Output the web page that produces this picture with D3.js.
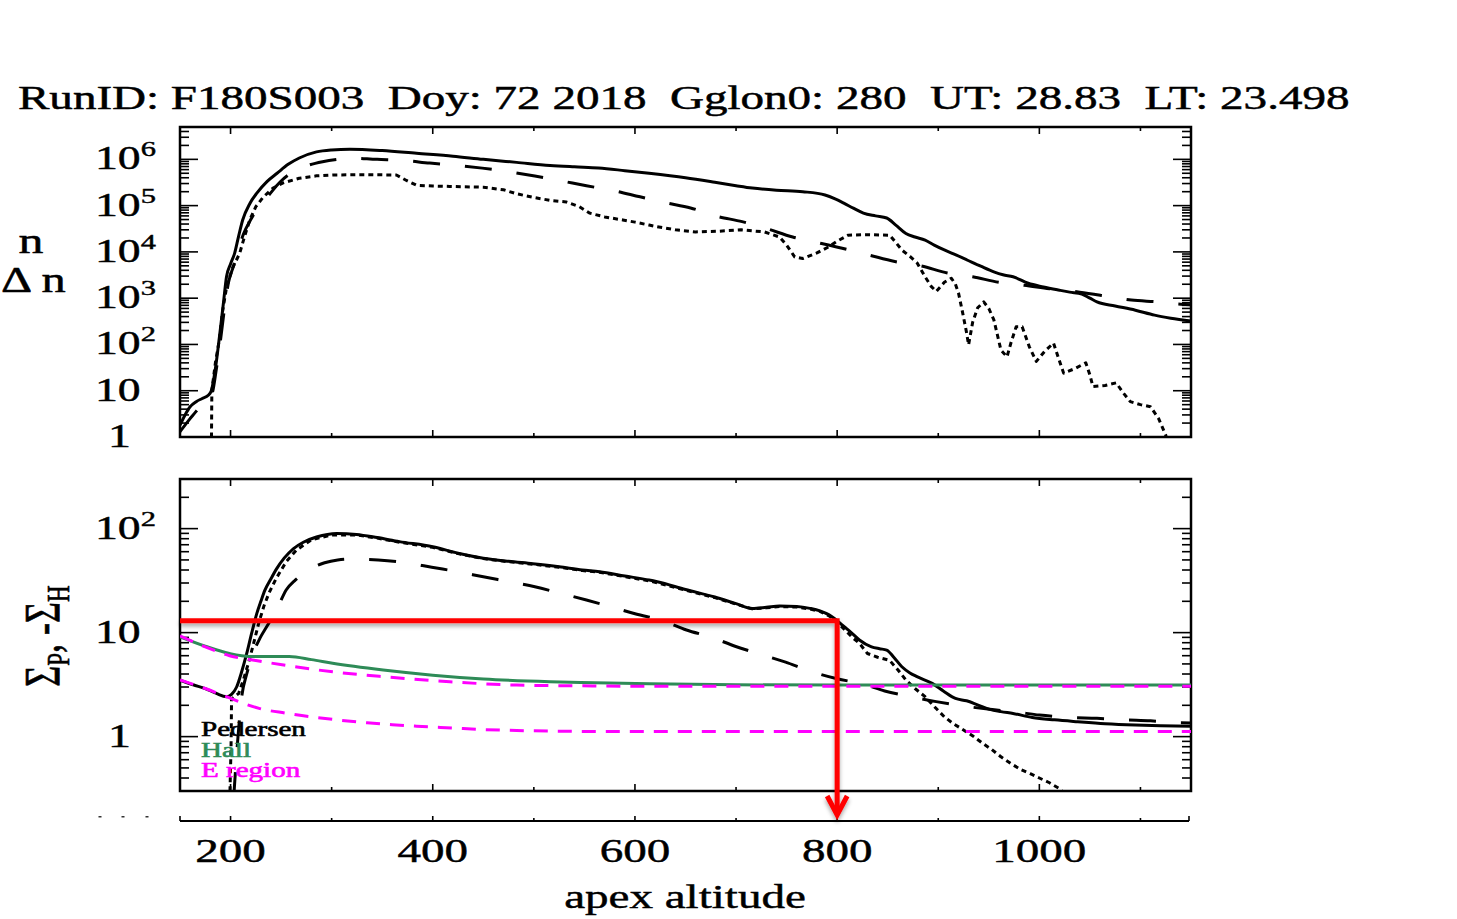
<!DOCTYPE html>
<html>
<head>
<meta charset="utf-8">
<script src="https://cdn.jsdelivr.net/npm/d3@7"></script>
<style>
  html, body { margin: 0; padding: 0; background: #fff; }
  svg text { font-family: "Liberation Serif", "DejaVu Serif", serif; white-space: pre; }
</style>
</head>
<body>
<svg id="chart" width="1457" height="919"></svg>
<script>
// ---------- run header ----------
const titleText = "RunID: F180S003  Doy: 72 2018  Gglon0: 280  UT: 28.83  LT: 23.498";

// ---------- axes ----------
const altDomain = [150, 1150];
const altTicks = [200, 300, 400, 500, 600, 700, 800, 900, 1000, 1100];
const altLabels = [200, 400, 600, 800, 1000];
const densDomain = [1, 5e6];
const densExponents = [0, 1, 2, 3, 4, 5, 6];
const sigmaDomain = [0.3, 300];
const sigmaExponents = [0, 1, 2];

// ---------- density profiles [apex altitude, value] ----------
const densTotal = [[150,1.8],[155,3],[160,4.5],[166,5.8],[172,6.8],[178,8],[181,10],[185,30],[189,145],[193,800],[196,2900],[200,5500],[204,9300],[208,22000],[212,49000],[219,110000],[226,186000],[236,330000],[246,500000],[257,780000],[268,1070000],[285,1450000],[300,1600000],[318,1660000],[350,1550000],[384,1350000],[420,1170000],[450,1000000],[483,860000],[516,740000],[540,690000],[564,650000],[590,570000],[614,500000],[650,400000],[679,320000],[700,270000],[716,240000],[740,215000],[766,200000],[788,170000],[798,140000],[807,112000],[816,88000],[826,69000],[838,60000],[849,54000],[858,38000],[868,25000],[877,21000],[887,18000],[896,14000],[906,11000],[918,8500],[929,6600],[942,4900],[955,3700],[964,3200],[974,2900],[989,2100],[1004,1750],[1019,1500],[1030,1350],[1042,1230],[1050,1000],[1057,830],[1075,680],[1095,550],[1114,430],[1130,370],[1150,320]];

const densBackground = [[150,1.3],[160,2.5],[170,4.5],[178,6.5],[182,9],[186,30],[190,120],[194,600],[198,2200],[203,5000],[207,10000],[213,25000],[220,50000],[228,95000],[238,170000],[249,324000],[265,589000],[278,760000],[291,891000],[305,1000000],[318,1070000],[345,1000000],[370,955000],[397,830000],[424,741000],[449,646000],[476,537000],[501,437000],[528,339000],[552,269000],[580,209000],[605,155000],[631,115000],[655,89000],[681,59000],[706,45000],[730,32000],[756,21000],[780,16000],[805,12000],[832,8500],[857,6200],[883,5000],[909,3500],[934,2900],[960,2200],[985,1900],[1010,1600],[1040,1350],[1065,1120],[1091,910],[1117,830],[1140,740],[1150,720]];

const densPerturbation = [[181,0.4],[181.5,10],[185,40],[189,130],[192,500],[196,1700],[202,4500],[209,9300],[214,22000],[219,49000],[225,95000],[232,150000],[242,240000],[252,310000],[268,390000],[285,440000],[301,460000],[330,465000],[364,460000],[374,350000],[384,275000],[400,265000],[417,260000],[450,250000],[470,220000],[483,180000],[500,150000],[516,130000],[532,120000],[545,95000],[555,69000],[570,57000],[588,49000],[600,44000],[614,38000],[622,35000],[640,30000],[660,27000],[683,28000],[705,30000],[728,27000],[743,21000],[750,14000],[758,7800],[766,7200],[780,9500],[792,13000],[800,17000],[811,23000],[830,23500],[852,23000],[858,16000],[864,11000],[872,8000],[879,5800],[887,2900],[893,1800],[898,1400],[906,2200],[913,2700],[917,2000],[920,1300],[924,500],[928,180],[930,98],[934,300],[939,620],[945,830],[950,600],[955,340],[962,76],[968,54],[972,110],[977,240],[983,240],[990,90],[997,43],[1005,70],[1014,107],[1019,50],[1024,24],[1035,30],[1046,40],[1050,22],[1053,12.3],[1065,13],[1076,14.8],[1083,9],[1090,5.8],[1100,5],[1110,4.5],[1118,2.5],[1125,1.1],[1130,0.4]];

// ---------- conductance profiles [apex altitude, value] ----------
const pedTotal = [[150,3.5],[163,3.15],[175,2.9],[186,2.6],[196,2.42],[201,2.55],[206,3.0],[211,4.2],[216,6.3],[221,10],[226,15.3],[230,20],[234,25.6],[240,33],[245.5,41],[253,52],[262,64],[272,74],[285,83],[305,90],[324.5,88],[345,82],[367,75],[400,67],[425,58],[450,52],[475,48.5],[499,46],[525,43],[548,40],[565,38.5],[590,35],[614,32],[622,30.8],[650,26],[679,22],[700,19],[716,17.1],[730,17.5],[743,18],[760,17.8],[773,17.1],[783,16.2],[792,14.8],[800,13],[807,11.4],[815,9.8],[822,8.5],[834,7.3],[842,7.0],[849,6.8],[856,5.8],[864,4.7],[872,4.1],[879,3.77],[894,3.25],[905,2.75],[917,2.33],[928,2.21],[940,2.0],[951,1.83],[962,1.74],[974,1.67],[993,1.53],[1015,1.45],[1038,1.39],[1065,1.33],[1095,1.29],[1120,1.27],[1150,1.26]];

const pedPerturbation = [[199,0.2],[200.5,0.8],[201,2.3],[208,2.6],[213,3.6],[218,5.2],[223,8],[228,12.5],[233,18],[238,24],[245,33],[255,48],[265,62],[280,78],[300,87],[324,87],[345,81],[367,74],[400,66],[425,57.5],[450,51.5],[475,48],[499,45.5],[525,42.5],[548,39.5],[565,38],[590,34.5],[614,31.5],[650,25.6],[679,21.7],[700,18.8],[716,16.9],[730,17.3],[743,17.8],[760,17.6],[773,16.9],[783,16],[792,14.5],[800,12.6],[807,10.8],[815,9.0],[822,7.9],[830,6.3],[840,5.8],[852,5.4],[860,4.4],[868,3.5],[877,2.9],[887,2.42],[896,1.95],[906,1.55],[915,1.33],[925,1.16],[935,1.0],[944,0.86],[953,0.75],[962,0.64],[972,0.55],[982,0.48],[991,0.44],[1000,0.40],[1010,0.36],[1019,0.32],[1026,0.28]];

const pedBackground = [[203,0.25],[207,0.9],[211,2.4],[216,4.0],[222,6.2],[229,8.8],[236,11.5],[247,17.8],[255,25.7],[264,32],[273,37.4],[283,43],[293,47],[306,50],[320,51],[346,50],[374,47],[399,42.5],[425,38.5],[450,34.4],[476,30.8],[501,27.6],[527,23.8],[552,20.6],[578,17.5],[601,15.1],[626,13.2],[651,10.6],[676,9.0],[699,7.4],[724,6.2],[749,5.2],[772,4.3],[800,3.6],[826,3.2],[847,2.75],[873,2.42],[898,2.17],[925,1.97],[951,1.83],[976,1.73],[1000,1.61],[1030,1.53],[1057,1.5],[1084,1.45],[1110,1.42],[1137,1.36],[1150,1.35]];

const hallTotal = [[150,9.1],[175,7.4],[199,6.3],[219,5.9],[258,5.9],[280,5.5],[301,5.07],[351,4.37],[400,3.9],[450,3.58],[516,3.37],[560,3.3],[614,3.22],[700,3.15],[800,3.13],[1150,3.13]];
const hallERegion = [[150,9.3],[175,7.3],[199,6.0],[225,5.4],[251,4.9],[301,4.2],[351,3.77],[417,3.37],[483,3.13],[548,3.08],[614,3.05],[1150,3.05]];
const pedERegion = [[150,3.5],[175,2.9],[196,2.42],[212,2.1],[229,1.86],[255,1.68],[279,1.55],[305,1.45],[335,1.36],[360,1.30],[384,1.26],[420,1.21],[450,1.17],[483,1.145],[516,1.13],[560,1.12],[614,1.12],[1150,1.12]];

// ---------- legend and marker ----------
const legendNames = ["Pedersen", "Hall", "E region"];
const legendColors = ["#000000", "#2e8b57", "#ff00ff"];
const markAltitude = 800;
const markSigma = 13;

// ================= drawing =================
const svg = d3.select("#chart");
const defs = svg.append("defs");

const x = d3.scaleLinear().domain(altDomain).range([180, 1191]);
const yTop = d3.scaleLog().domain(densDomain).range([437, 127]);
const yBot = d3.scaleLog().domain(sigmaDomain).range([791, 479]);

// title, also used to find the horizontal stretch of all lettering
const titleG = svg.append("g");
const titleT = titleG.append("text").attr("font-size", 34).attr("fill", "#000")
  .attr("stroke", "#000").attr("stroke-width", 0.5).text(titleText);
const SX = 1332 / titleT.node().getComputedTextLength();
titleG.attr("transform", `translate(18,109) scale(${SX},1)`);

function stext(parent, px, py, size, anchor) {
  const g = parent.append("g").attr("transform", `translate(${px},${py}) scale(${SX},1)`);
  return g.append("text").attr("font-size", size).attr("text-anchor", anchor || "start")
    .attr("fill", "#000").attr("stroke", "#000").attr("stroke-width", 0.45);
}

const shadow = defs.append("filter").attr("id", "redShadow")
  .attr("x", "-5%").attr("y", "-50%").attr("width", "110%").attr("height", "200%");
shadow.append("feDropShadow").attr("dx", 0).attr("dy", 3).attr("stdDeviation", 2.2)
  .attr("flood-color", "#000").attr("flood-opacity", 0.35);

function panel(name, yScale, exps) {
  const [yb, yt] = yScale.range();
  const g = svg.append("g").attr("class", name);
  defs.append("clipPath").attr("id", "clip-" + name)
    .append("rect").attr("x", 180).attr("y", yt).attr("width", 1011).attr("height", yb - yt);

  // log ticks on both sides
  const [d0, d1] = yScale.domain();
  const tv = [];
  for (let k = Math.floor(Math.log10(d0)); k <= Math.ceil(Math.log10(d1)); k++) {
    for (let m = 1; m <= 9; m++) {
      const v = m * Math.pow(10, k);
      if (v >= d0 * 0.999 && v <= d1 * 1.001) tv.push({ v, major: m === 1 });
    }
  }
  g.selectAll("line.yl").data(tv).join("line")
    .attr("x1", 180).attr("x2", d => 180 + (d.major ? 18 : 9))
    .attr("y1", d => yScale(d.v)).attr("y2", d => yScale(d.v))
    .attr("stroke", "#000").attr("stroke-width", 1.6);
  g.selectAll("line.yr").data(tv).join("line")
    .attr("x1", 1191).attr("x2", d => 1191 - (d.major ? 18 : 9))
    .attr("y1", d => yScale(d.v)).attr("y2", d => yScale(d.v))
    .attr("stroke", "#000").attr("stroke-width", 1.6);

  // altitude ticks on top and bottom edges
  g.selectAll("line.xb").data(altTicks).join("line")
    .attr("x1", d => x(d)).attr("x2", d => x(d))
    .attr("y1", yb).attr("y2", d => yb - (d % 200 === 0 ? 7 : 4))
    .attr("stroke", "#000").attr("stroke-width", 1.6);
  g.selectAll("line.xt").data(altTicks).join("line")
    .attr("x1", d => x(d)).attr("x2", d => x(d))
    .attr("y1", yt).attr("y2", d => yt + (d % 200 === 0 ? 7 : 4))
    .attr("stroke", "#000").attr("stroke-width", 1.6);

  // tick labels 1, 10, 10^n
  exps.forEach(e => {
    const ty = yScale(Math.pow(10, e)) + 10;
    if (e === 0) {
      stext(g, 108, ty, 33).text("1");
    } else {
      const t = stext(g, 95, ty, 33);
      t.append("tspan").text("10");
      if (e > 1) t.append("tspan").attr("font-size", 22).attr("dy", -13).text(String(e));
    }
  });

  g.append("rect").attr("x", 180).attr("y", yt).attr("width", 1011).attr("height", yb - yt)
    .attr("fill", "none").attr("stroke", "#000").attr("stroke-width", 2.5);

  return g.append("g").attr("clip-path", `url(#clip-${name})`);
}

const topPlot = panel("dens", yTop, densExponents);
const botPlot = panel("sigma", yBot, sigmaExponents);

function draw(plot, yScale, data, color, dash, curve) {
  const line = d3.line().x(d => x(d[0])).y(d => yScale(d[1])).curve(curve || d3.curveLinear);
  plot.append("path").datum(data).attr("d", line)
    .attr("fill", "none").attr("stroke", color).attr("stroke-width", 3)
    .attr("stroke-dasharray", dash || null).attr("stroke-linejoin", "round");
}

// density panel
draw(topPlot, yTop, densTotal, "#000", null, d3.curveMonotoneX);
draw(topPlot, yTop, densBackground, "#000", "27,25", d3.curveMonotoneX);
draw(topPlot, yTop, densPerturbation, "#000", "5,4");

// conductance panel
draw(botPlot, yBot, pedTotal, "#000", null, d3.curveMonotoneX);
draw(botPlot, yBot, pedBackground, "#000", "27,25", d3.curveMonotoneX);
draw(botPlot, yBot, pedPerturbation, "#000", "5,4");
draw(botPlot, yBot, hallTotal, legendColors[1], null, d3.curveMonotoneX);
draw(botPlot, yBot, hallERegion, legendColors[2], "14,10", d3.curveMonotoneX);
draw(botPlot, yBot, pedERegion, legendColors[2], "14,10", d3.curveMonotoneX);

// legend
legendNames.forEach((n, i) => {
  stext(svg, 201, 736 + i * 20.5, 21).attr("fill", legendColors[i]).attr("stroke", legendColors[i])
    .attr("stroke-width", 0.6).text(n);
});

// y-axis titles
stext(svg, 31, 253, 36, "middle").text("n");
stext(svg, 1, 292, 35, "start").text("\u0394 n");
{
  const g = svg.append("g").attr("transform", `translate(59,636) scale(${SX},1) rotate(-90)`);
  const t = g.append("text").attr("font-size", 36).attr("text-anchor", "middle").attr("fill", "#000")
    .attr("stroke", "#000").attr("stroke-width", 0.45);
  t.append("tspan").text("\u03a3");
  t.append("tspan").attr("font-size", 23).attr("dy", 7).text("P");
  t.append("tspan").attr("dy", -7).text(", -\u03a3");
  t.append("tspan").attr("font-size", 23).attr("dy", 7).text("H");
}

// separate altitude axis
const axG = svg.append("g");
axG.append("line").attr("x1", 180).attr("x2", 1189).attr("y1", 821).attr("y2", 821)
  .attr("stroke", "#000").attr("stroke-width", 2);
axG.selectAll("line.t").data([altDomain[0], ...altTicks, altDomain[1]]).join("line")
  .attr("x1", d => Math.min(x(d), 1189)).attr("x2", d => Math.min(x(d), 1189))
  .attr("y1", 821).attr("y2", d => 821 - (d % 200 === 0 || d === altDomain[0] || d === altDomain[1] ? 5 : 3))
  .attr("stroke", "#000").attr("stroke-width", 1.6);
altLabels.forEach(v => stext(axG, x(v), 862, 34, "middle").text(String(v)));
stext(axG, 685, 908, 34, "middle").text("apex altitude");
[100, 123, 147].forEach(px => axG.append("rect").attr("x", px - 1.5).attr("y", 816).attr("width", 3).attr("height", 1.5).attr("fill", "#333"));

// red marker: conductance level at the chosen altitude
const red = svg.append("g").attr("filter", "url(#redShadow)");
const mx = x(markAltitude), my = yBot(markSigma);
red.append("path")
  .attr("d", `M${x(altDomain[0])},${my} H${mx} V814`)
  .attr("fill", "none").attr("stroke", "#ff0000").attr("stroke-width", 5);
red.append("path")
  .attr("d", `M${mx - 10},796 L${mx},815 L${mx + 10},796`)
  .attr("fill", "none").attr("stroke", "#ff0000").attr("stroke-width", 5).attr("stroke-linejoin", "miter");
</script>
</body>
</html>
